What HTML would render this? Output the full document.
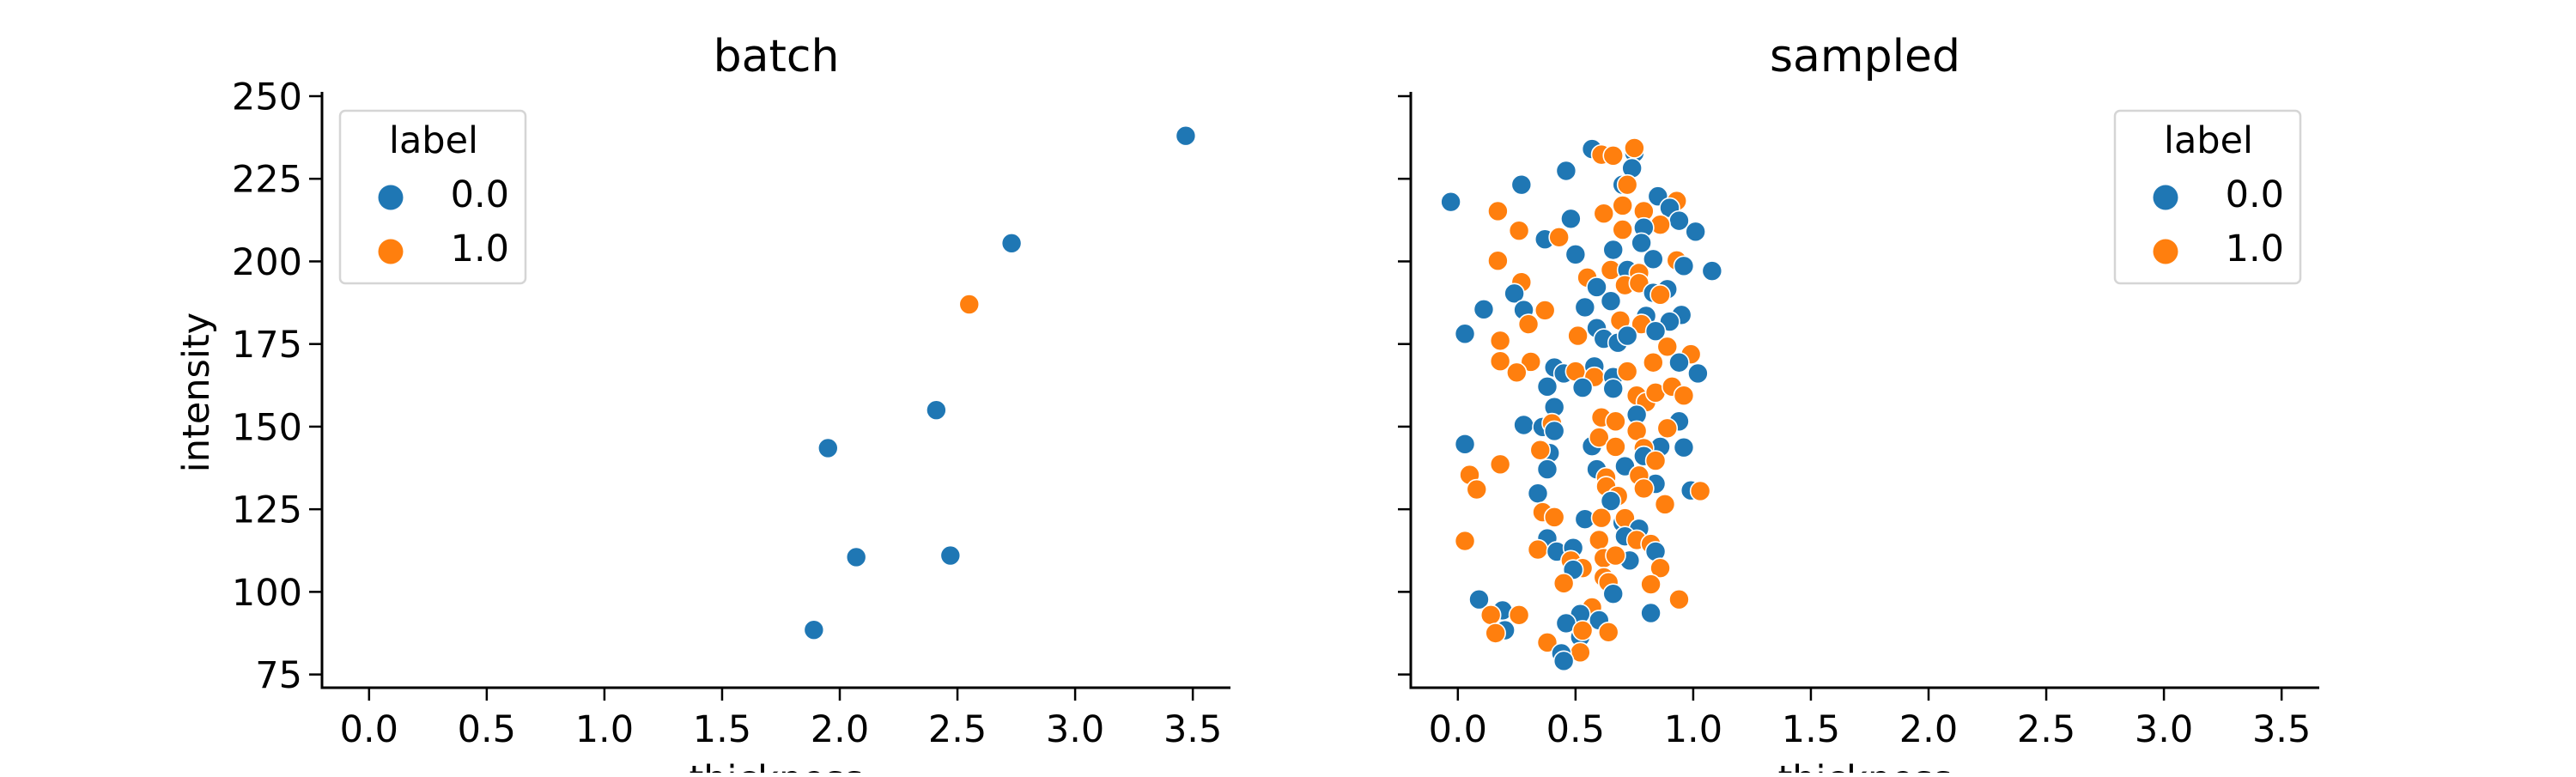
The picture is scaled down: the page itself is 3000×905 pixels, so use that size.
<!DOCTYPE html>
<html><head><meta charset="utf-8"><style>
html,body{margin:0;padding:0;background:#fff;}
svg text{font-family:"DejaVu Sans","Liberation Sans",sans-serif;fill:#000;}
</style></head><body>
<svg id="chart" width="3000" height="900" viewBox="0 0 3000 900" xmlns="http://www.w3.org/2000/svg"></svg>
<script>
const xTicks=[0,0.5,1,1.5,2,2.5,3,3.5];
const xTickLabels=["0.0","0.5","1.0","1.5","2.0","2.5","3.0","3.5"];
const yTicks=[75,100,125,150,175,200,225,250];
const yTickLabels=["75","100","125","150","175","200","225","250"];
const batchX=[3.47,2.73,2.55,2.41,1.95,2.07,2.47,1.89];
const batchY=[238,205.5,187,155,143.5,110.5,111,88.5];
const batchLabel=[0,0,1,0,0,0,0,0];
const sampledX=[0.57,0.61,0.66,0.75,0.75,0.74,0.46,0.27,-0.03,0.70,0.72,0.85,0.93,0.17,0.70,0.62,0.79,0.90,0.94,0.86,0.48,0.79,0.70,1.01,0.26,0.37,0.43,0.78,0.50,0.66,0.17,0.83,0.93,0.96,1.08,0.55,0.65,0.72,0.77,0.27,0.59,0.71,0.77,0.83,0.89,0.86,0.24,0.65,0.54,0.11,0.37,0.28,0.30,0.80,0.95,0.90,0.69,0.78,0.59,0.84,0.03,0.51,0.62,0.68,0.72,0.89,0.18,0.18,0.31,0.25,0.99,0.94,0.83,0.41,0.45,0.50,0.58,0.58,0.66,0.72,1.02,0.38,0.53,0.66,0.76,0.80,0.84,0.91,0.96,0.41,0.76,0.61,0.67,0.28,0.36,0.40,0.94,0.41,0.76,0.89,0.03,0.57,0.60,0.67,0.86,0.96,0.39,0.35,0.79,0.79,0.84,0.18,0.38,0.71,0.59,0.84,0.05,0.08,0.63,0.77,0.79,0.63,0.68,0.65,0.34,0.99,1.03,0.88,0.36,0.41,0.54,0.61,0.70,0.71,0.77,0.71,0.76,0.82,0.84,0.38,0.03,0.34,0.42,0.49,0.48,0.73,0.60,0.62,0.67,0.53,0.49,0.86,0.62,0.45,0.64,0.66,0.82,0.09,0.94,0.19,0.14,0.26,0.82,0.57,0.52,0.60,0.46,0.64,0.20,0.16,0.38,0.52,0.53,0.52,0.44,0.45];
const sampledY=[234.0,232.3,232.0,232.8,234.3,228.2,227.4,223.2,218.0,223.2,223.2,219.7,218.3,215.2,216.9,214.5,215.2,216.2,212.3,211.1,212.9,210.2,209.6,209.0,209.3,206.7,207.3,205.6,202.1,203.5,200.2,200.7,200.3,198.6,197.1,195.1,197.4,197.4,196.5,193.7,192.2,192.8,193.4,190.5,191.6,189.9,190.3,188.0,186.1,185.5,185.2,185.3,181.0,183.5,183.8,181.8,182.1,181.0,179.8,178.9,178.1,177.5,176.6,175.4,177.5,174.2,176.0,169.8,169.6,166.4,171.9,169.4,169.4,167.9,166.1,166.7,168.2,165.0,165.0,166.7,166.1,162.1,161.8,161.5,159.4,157.4,160.3,162.1,159.4,155.9,153.6,152.8,151.6,150.5,149.9,151.0,151.6,148.7,148.7,149.5,144.7,144.1,146.7,143.9,143.9,143.7,142.0,142.9,143.5,141.1,139.7,138.6,137.1,138.0,137.1,132.7,135.4,131.0,134.6,135.2,131.3,131.9,129.0,127.5,129.8,130.7,130.5,126.5,124.1,122.6,122.0,122.4,120.9,122.3,119.1,116.8,115.7,114.5,112.2,116.2,115.4,112.8,112.2,113.3,109.5,109.5,115.7,110.2,111.0,107.2,106.7,107.2,104.4,102.6,102.9,99.4,102.3,97.7,97.7,94.4,93.0,93.0,93.6,95.3,93.3,91.4,90.5,87.8,88.4,87.5,84.7,86.3,88.3,81.7,81.4,79.1];
const sampledLabel=[0,1,1,0,1,0,0,0,0,0,1,0,1,1,1,1,1,0,0,1,0,0,1,0,1,0,1,0,0,0,1,0,1,0,0,1,1,0,1,1,0,1,1,0,0,1,0,0,0,0,1,0,1,0,0,0,1,1,0,0,0,1,0,0,0,1,1,1,1,1,1,0,1,0,0,1,0,1,0,1,0,0,0,0,1,1,1,1,1,0,0,1,1,0,0,1,0,0,1,1,0,0,1,1,0,0,0,1,1,0,1,1,0,0,0,0,1,1,1,1,1,1,1,0,0,0,1,1,1,1,0,1,0,1,0,0,1,1,0,0,1,1,0,0,1,0,1,1,1,1,0,1,1,1,1,0,1,0,1,0,1,1,0,1,0,0,0,1,0,1,1,0,1,1,0,0,1,0,1,1,1,1];
const colors=["#1f77b4","#ff7f0e"];
const NS="http://www.w3.org/2000/svg";
const svg=document.getElementById('chart');
function mk(tag,attrs,parent){const e=document.createElementNS(NS,tag);for(const k in attrs)e.setAttribute(k,attrs[k]);(parent||svg).appendChild(e);return e;}
const X0=-0.2,X1=3.66,Y0=71,Y1=251.3,W=1058,TOP=107,BOT=801;
function sx(left,v){return left+(v-X0)/(X1-X0)*W;}
function sy(v){return BOT-(v-Y0)/(Y1-Y0)*(BOT-TOP);}
function panel(name,left,title,xs,ys,ls,showY,legendX){
  const g=mk('g',{});
  
  
  const t=mk('text',{x:left+W/2,y:83,'font-size':52,'text-anchor':'middle'},g);
  t.textContent=title;
  
  
  const pts=mk('g',{},g);
  
  
  for(let i=0;i<xs.length;i++){
    const c=mk('circle',{cx:sx(left,xs[i]),cy:sy(ys[i]),r:11.5,fill:colors[ls[i]],stroke:'#fff','stroke-width':1.6},pts);
    
    
  }
  const ya=mk('line',{x1:left,y1:TOP,x2:left,y2:BOT,stroke:'#000','stroke-width':3},g);
  
  
  const xa=mk('line',{x1:left-1.5,y1:BOT,x2:left+W,y2:BOT,stroke:'#000','stroke-width':3},g);
  
  
  xTicks.forEach((v,i)=>{
    const x=sx(left,v);
    mk('line',{x1:x,y1:BOT,x2:x,y2:BOT+15,stroke:'#000','stroke-width':2.5},g);
    const tl=mk('text',{x:x,y:864,'font-size':43,'text-anchor':'middle'},g);
    tl.textContent=xTickLabels[i];
    
    
  });
  yTicks.forEach((v,i)=>{
    const y=sy(v);
    mk('line',{x1:left-15,y1:y,x2:left,y2:y,stroke:'#000','stroke-width':2.5},g);
    if(showY){
      const tl=mk('text',{x:left-23,y:y+15.5,'font-size':43,'text-anchor':'end'},g);
      tl.textContent=yTickLabels[i];
      
      
    }
  });
  const xl=mk('text',{x:left+W/2,y:922,'font-size':43,'text-anchor':'middle'},g);
  xl.textContent='thickness';
  
  
  if(showY){
    const yl=mk('text',{x:0,y:0,'font-size':43,'text-anchor':'middle',transform:'translate(243,457) rotate(-90)'},g);
    yl.textContent='intensity';
    
    
  }
  const lg=mk('g',{},g);
  
  
  mk('rect',{x:legendX,y:129,width:216,height:201,rx:6,fill:'#fff','fill-opacity':0.8,stroke:'#d5d5d5','stroke-width':2.5},lg);
  const lt=mk('text',{x:legendX+109,y:178,'font-size':43,'text-anchor':'middle'},lg);
  lt.textContent='label';
  
  
  ['0.0','1.0'].forEach((s,i)=>{
    const cy=230+i*63;
    const m=mk('circle',{cx:legendX+59,cy:cy,r:14.5,fill:colors[i]},lg);
    
    
    const tx=mk('text',{x:legendX+197,y:cy+11,'font-size':43,'text-anchor':'end'},lg);
    tx.textContent=s;
    
    
  });
}
panel('batch',375,'batch',batchX,batchY,batchLabel,true,396);
panel('sampled',1643,'sampled',sampledX,sampledY,sampledLabel,false,2463);
</script>
</body></html>
